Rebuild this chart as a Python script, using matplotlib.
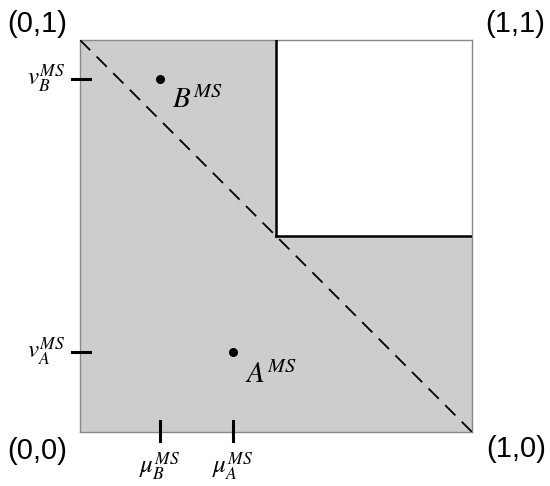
import matplotlib.pyplot as plt
import numpy as np

plt.rcParams['mathtext.fontset'] = 'stix'

# dados
ponto_nomes = ['A', 'B']
mu = [0.39, 0.204]      # coordenada x dos pontos
nu = [0.204, 0.90]      # coordenada y dos pontos
limiar = 0.5
cantos = [(0, 0), (1, 0), (0, 1), (1, 1)]
canto_rotulos = ['(0,0)', '(1,0)', '(0,1)', '(1,1)']

fig = plt.figure(figsize=(5.5, 4.86), dpi=100)
ax = fig.add_axes([80/550, 54/486, 392/550, 392/486])
ax.set_xlim(0, 1)
ax.set_ylim(0, 1)
ax.set_facecolor('#cdcdcd')
for s in ax.spines.values():
    s.set_color('#888888')
    s.set_linewidth(1.0)

# região branca
ax.fill([limiar, 1, 1, limiar], [limiar, limiar, 1, 1], color='white', zorder=1)
ax.plot([limiar, limiar], [1, limiar], color='black', lw=1.8, zorder=3)
ax.plot([limiar, 1], [limiar, limiar], color='black', lw=1.8, zorder=3)

# diagonal tracejada
ax.plot([0, 1], [1, 0], color='black', lw=1.3, dashes=(8, 5), zorder=3)

# pontos
ax.scatter(mu, nu, s=30, color='black', zorder=4)
offs = {'A': (0.031, -0.079), 'B': (0.031, -0.074)}
for nome, x, y in zip(ponto_nomes, mu, nu):
    dx, dy = offs[nome]
    ax.text(x + dx, y + dy, r'$%s^{MS}$' % nome, fontsize=21, ha='left', va='baseline', zorder=5)

# marcas nos eixos
ax.set_xticks([])
ax.set_yticks([])
for nome, x, y in zip(ponto_nomes, mu, nu):
    ax.plot([x, x], [-0.023, 0.028], color='black', lw=2.2, clip_on=False, zorder=5)
    ax.plot([-0.02, 0.025], [y, y], color='black', lw=2.2, clip_on=False, zorder=5)
    ax.text(x, -0.048, r'$\mu_%s^{MS}$' % nome, fontsize=18, ha='center', va='top')
    ax.text(-0.038, y, r'$v_%s^{MS}$' % nome, fontsize=18, ha='right', va='center')

# cantos
pos = {(0, 0): (-0.033, -0.012, 'right', 'top'), (1, 0): (1.036, -0.008, 'left', 'top'),
       (0, 1): (-0.033, 1.005, 'right', 'bottom'), (1, 1): (1.033, 1.005, 'left', 'bottom')}
for c, r in zip(cantos, canto_rotulos):
    x, y, ha, va = pos[c]
    ax.text(x, y, r, fontsize=21, family='Liberation Sans', ha=ha, va=va)

fig.savefig('out.png', dpi=100)
